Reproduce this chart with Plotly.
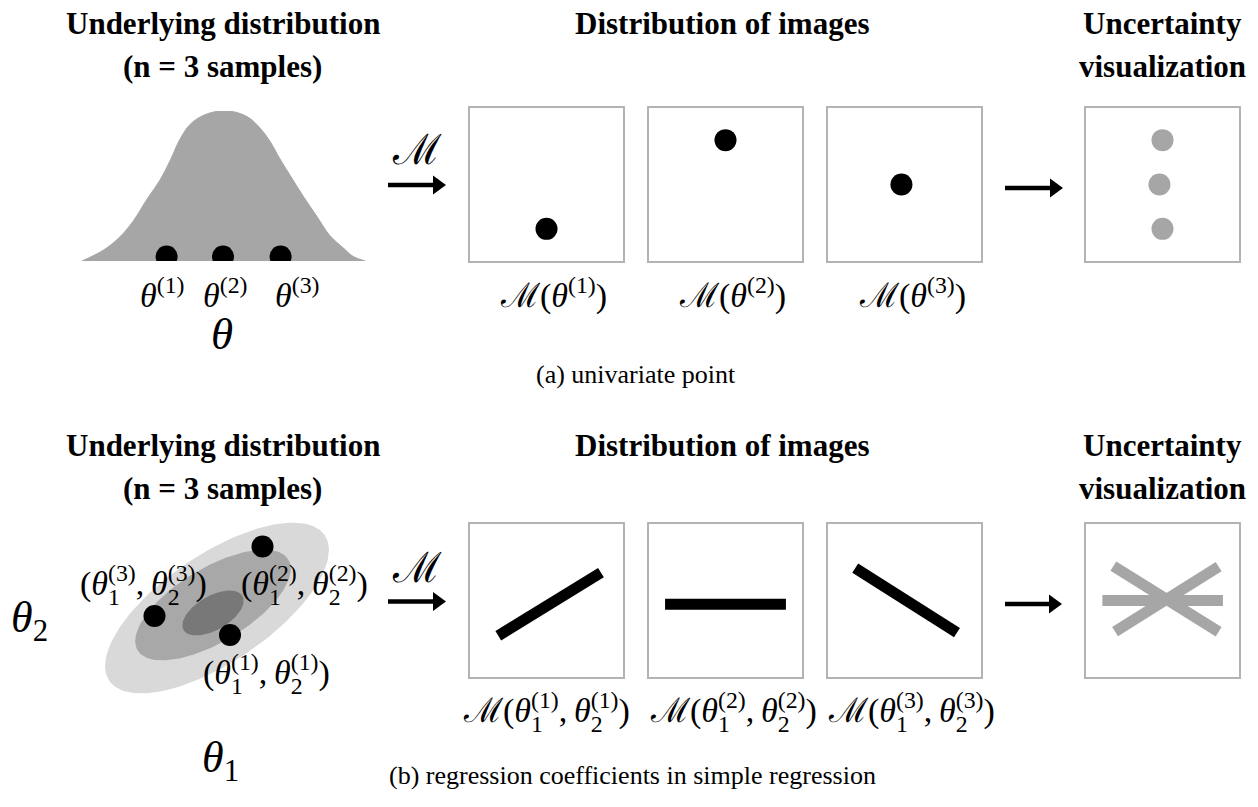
import numpy as np
import plotly.graph_objects as go

W, H = 1258, 807

# ---------------- data ----------------
# (a) univariate point: density of theta and three samples
bell_theta = [-2.30, -1.94, -1.67, -1.44, -1.22, -1.00, -0.83, -0.67, -0.50, -0.28, 0.00,
              0.28, 0.50, 0.67, 0.83, 1.00, 1.17, 1.39, 1.61, 1.83, 2.06, 2.22, 2.42]
bell_density = [0.00, 0.073, 0.16, 0.27, 0.41, 0.54, 0.67, 0.81, 0.91, 0.97, 1.00,
                0.99, 0.95, 0.885, 0.80, 0.68, 0.57, 0.43, 0.30, 0.17, 0.085, 0.03, 0.00]
sample_theta = [-0.89, 0.05, 1.01]
sample_labels = ["1", "2", "3"]
# image of each sample: location of the point inside the (unit) image
point_img_x = [0.50, 0.50, 0.48]
point_img_y = [0.21, 0.79, 0.50]

# (b) regression coefficients: bivariate density contours and three samples
ell_c1 = [-0.06, -0.14, -0.14]
ell_c2 = [0.04, 0.10, -0.06]
ell_a = [2.60, 1.76, 0.68]
ell_b = [1.08, 0.74, 0.34]
ell_angle = [34, 31, 30]
ell_colors = ["#d9d9d9", "#a8a8a8", "#787878"]
samp_t1 = [0.20, 0.85, -1.31]
samp_t2 = [-0.50, 1.27, -0.12]
# image of each sample: regression line inside the (unit) image
line_x0 = [0.185, 0.105, 0.178]
line_x1 = [0.856, 0.895, 0.843]
line_y0 = [0.270, 0.475, 0.712]
line_y1 = [0.682, 0.475, 0.290]
# overlaid lines of the uncertainty visualization
unc_x0 = [0.190, 0.107, 0.179]
unc_x1 = [0.867, 0.895, 0.867]
unc_y0 = [0.296, 0.500, 0.725]
unc_y1 = [0.721, 0.500, 0.296]

GRAY = "#a6a6a6"
FRAME = "#b3b3b3"
SERIF = "Liberation Serif"

fig = go.Figure()
layout = dict(width=W, height=H, margin=dict(l=0, r=0, t=0, b=0),
              paper_bgcolor="white", plot_bgcolor="rgba(0,0,0,0)", showlegend=False)

# overlay axis in pixel space for text and arrows
layout["xaxis"] = dict(domain=[0, 1], range=[0, W], visible=False, fixedrange=True)
layout["yaxis"] = dict(domain=[0, 1], range=[H, 0], visible=False, fixedrange=True)

def add_axes(n, xpx, ypx, xr, yr, frame=False):
    base = dict(showgrid=False, zeroline=False, showticklabels=False, ticks="",
                fixedrange=True)
    if frame:
        base.update(showline=True, mirror=True, linecolor=FRAME, linewidth=1.6)
    else:
        base.update(showline=False)
    layout[f"xaxis{n}"] = dict(base, domain=[xpx[0] / W, xpx[1] / W], range=xr,
                               anchor=f"y{n}")
    layout[f"yaxis{n}"] = dict(base, domain=[1 - ypx[1] / H, 1 - ypx[0] / H], range=yr,
                               anchor=f"x{n}")
    return f"x{n}", f"y{n}"

BOX_X = [(470, 623), (649, 802), (828, 981)]
UNC_X = (1086, 1239)

# ---- (a) bell curve panel
xa, ya = add_axes(2, (76, 370), (111, 261), [-2.4, 2.5], [0, 1])
fig.add_trace(go.Scatter(x=bell_theta, y=bell_density, mode="lines", line_shape="spline",
                         fill="tozeroy", fillcolor=GRAY, line=dict(color=GRAY, width=1),
                         xaxis=xa, yaxis=ya, hoverinfo="skip"))
fig.add_trace(go.Scatter(x=sample_theta, y=[0.03] * 3, mode="markers",
                         marker=dict(size=22, color="black"), xaxis=xa, yaxis=ya))

# ---- (a) image boxes
n = 3
for i in range(3):
    xa, ya = add_axes(n, BOX_X[i], (108, 261), [0, 1], [0, 1], frame=True)
    fig.add_trace(go.Scatter(x=[point_img_x[i]], y=[point_img_y[i]], mode="markers",
                             marker=dict(size=22, color="black"), xaxis=xa, yaxis=ya))
    n += 1
xa, ya = add_axes(n, UNC_X, (108, 261), [0, 1], [0, 1], frame=True)
fig.add_trace(go.Scatter(x=point_img_x, y=point_img_y, mode="markers",
                         marker=dict(size=22, color=GRAY), xaxis=xa, yaxis=ya))
n += 1

# ---- (b) ellipse panel
xa, ya = add_axes(n, (90, 350), (510, 710), [-2.6, 2.6], [-2, 2])
n += 1
t = np.linspace(0, 2 * np.pi, 181)
for c1, c2, a, b, ang, col in zip(ell_c1, ell_c2, ell_a, ell_b, ell_angle, ell_colors):
    phi = np.deg2rad(ang)
    ex = c1 + a * np.cos(t) * np.cos(phi) - b * np.sin(t) * np.sin(phi)
    ey = c2 + a * np.cos(t) * np.sin(phi) + b * np.sin(t) * np.cos(phi)
    fig.add_trace(go.Scatter(x=ex, y=ey, mode="lines", fill="toself", fillcolor=col,
                             line=dict(width=0, color=col), xaxis=xa, yaxis=ya,
                             hoverinfo="skip"))
fig.add_trace(go.Scatter(x=samp_t1, y=samp_t2, mode="markers",
                         marker=dict(size=22, color="black"), xaxis=xa, yaxis=ya))

# ---- (b) image boxes
for i in range(3):
    xa, ya = add_axes(n, BOX_X[i], (524, 677), [0, 1], [0, 1], frame=True)
    fig.add_trace(go.Scatter(x=[line_x0[i], line_x1[i]], y=[line_y0[i], line_y1[i]],
                             mode="lines", line=dict(color="black", width=11),
                             xaxis=xa, yaxis=ya))
    n += 1
xa, ya = add_axes(n, UNC_X, (524, 677), [0, 1], [0, 1], frame=True)
for i in range(3):
    fig.add_trace(go.Scatter(x=[unc_x0[i], unc_x1[i]], y=[unc_y0[i], unc_y1[i]],
                             mode="lines", line=dict(color=GRAY, width=11),
                             xaxis=xa, yaxis=ya))

# ---------------- arrows (overlay pixel space) ----------------
shapes = []
def arrow(x0, x1, y):
    hl, hh = 13, 9.5
    shapes.append(dict(type="line", xref="x", yref="y", x0=x0, x1=x1 - hl + 1, y0=y, y1=y,
                       line=dict(color="black", width=4.5)))
    shapes.append(dict(type="path", xref="x", yref="y",
                       path=f"M {x1 - hl} {y - hh} L {x1} {y} L {x1 - hl} {y + hh} Z",
                       fillcolor="black", line=dict(width=0)))
arrow(388, 446, 185)
arrow(1005, 1063, 188)
arrow(388, 446, 601.5)
arrow(1005, 1062, 604)
layout["shapes"] = shapes

# ---------------- text ----------------
annotations = []
def ann(x, y, text, size, bold=False, xanchor="center", yanchor="middle"):
    annotations.append(dict(x=x, y=y, xref="x", yref="y", text=(f"<b>{text}</b>" if bold else text),
                            showarrow=False, xanchor=xanchor, yanchor=yanchor,
                            font=dict(family=SERIF, size=size, color="black")))

def T(s):
    return f'<span style="color:rgba(0,0,0,0)">{s}</span>'

TH = "<i>θ</i>"
MS = "\u2133"
FM = 34  # math font size

def pair_label(x, y, k, prefix=""):
    main = f"{prefix}({TH}<sup>({k})</sup>,\u2009{TH}<sup>({k})</sup>)"
    sub = (T(f"{prefix}({TH}") + "<sub>1" + T("))") + "</sub>" + T(f",\u2009{TH}")
           + "<sub>2" + T("))") + "</sub>" + T(")"))
    ann(x, y, main, FM)
    ann(x, y + 0.149 * FM + 3, sub, FM)

# titles
for dy in (0, 422):
    ann(222.5, 23 + dy, "Underlying distribution", 31, bold=True)
    ann(222.5, 66 + dy, "(n = 3 samples)", 31, bold=True)
    ann(722, 23 + dy, "Distribution of images", 31, bold=True)
    ann(1162, 23 + dy, "Uncertainty", 31, bold=True)
    ann(1162, 66 + dy, "visualization", 31, bold=True)

# captions
ann(635.5, 374, "(a) univariate point", 26)
ann(632.5, 775, "(b) regression coefficients in simple regression", 26)

# (a) math labels
for xc, k in zip([162, 225, 296.5], sample_labels):
    ann(xc, 293, f"{TH}<sup>({k})</sup>", FM)
ann(222, 334, TH, 45)
for xc, k in zip([553.5, 732, 912], sample_labels):
    ann(xc, 293, f"{MS}({TH}<sup>({k})</sup>)", FM)
ann(417, 150, MS, 42)

# (b) math labels
ann(417, 568, MS, 42)
ann(29.5, 620.5, f"{TH}<sub>2</sub>", 44)
ann(220.5, 760.5, f"{TH}<sub>1</sub>", 44)
pair_label(143, 581, "3")
pair_label(304.5, 581, "2")
pair_label(266, 670, "1")
for xc, k in zip([546.5, 733, 911.5], sample_labels):
    pair_label(xc, 708, k, prefix=MS)

layout["annotations"] = annotations
fig.update_layout(**layout)
fig.write_html("out.html", config={"displayModeBar": False, "staticPlot": True},
               post_script="document.body.style.margin='0px';document.body.style.overflow='hidden';")
